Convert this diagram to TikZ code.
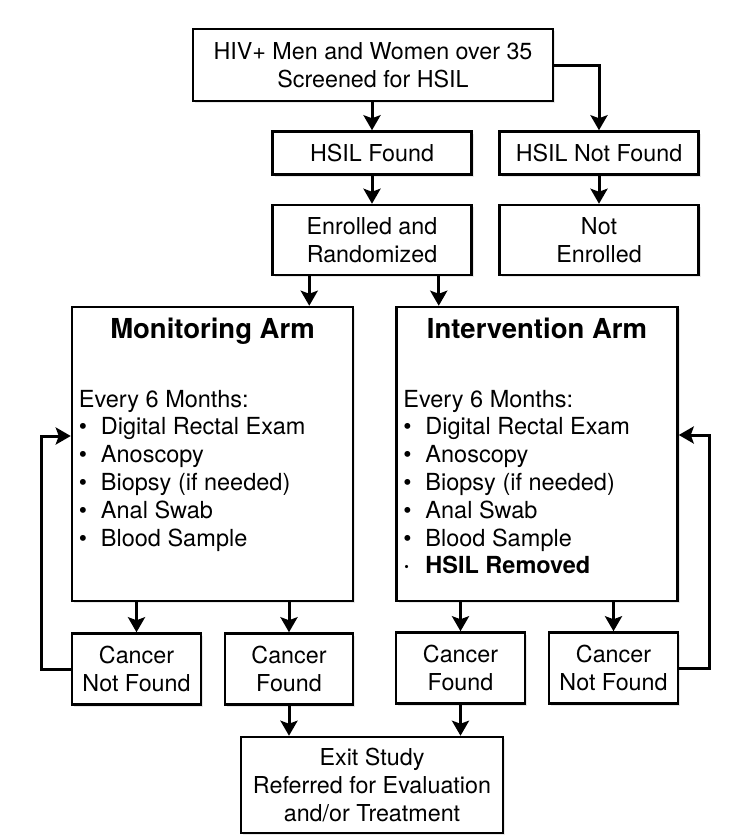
\documentclass[tikz,border=0pt]{standalone}
\usepackage{fontspec}
\setmainfont{TeX Gyre Heros}
\usetikzlibrary{calc}
\usetikzlibrary{positioning}
\usetikzlibrary{arrows.meta}
\usetikzlibrary{shadows}

\tikzset{
  box/.style={draw, line width=2.5pt, fill=white, align=center, inner sep=0pt,
    font=\fontsize{23.3}{28}\selectfont,
    drop shadow={opacity=0.18, shadow xshift=2pt, shadow yshift=-2pt}},
  small/.style={box, minimum width=129pt, minimum height=71pt},
  mid/.style={box, minimum width=199pt},
  arm/.style={box, minimum width=281pt, minimum height=294pt},
  armtitle/.style={inner sep=0pt, font=\fontsize{27.5}{32}\selectfont\bfseries},
  armlist/.style={inner sep=0pt, align=left, font=\fontsize{23.5}{27.8}\selectfont},
  link/.style={line width=3pt, -{Stealth[width=17pt,length=15pt,inset=3pt]}},
}
\newcommand{\itm}[1]{\makebox[22pt][l]{#1}}

\begin{document}
\begin{tikzpicture}[x=1pt,y=-1pt]
  \useasboundingbox (0,0) rectangle (737,835);

  \node [box, minimum width=360pt, minimum height=72pt] (scr) at (373,65)
    {HIV+ Men and Women over 35\\Screened for HSIL};
  \node [mid, minimum height=43pt] (hf) at (372,153) {HSIL Found};
  \node [mid, minimum height=43pt] (hnf) at (599,153) {HSIL Not Found};
  \node [mid, minimum height=70pt] (enr) at (372,240) {Enrolled and\\Randomized};
  \node [mid, minimum height=70pt] (nenr) at (599,240) {Not\\Enrolled};

  \node [arm] (mon) at (212.5,454) {};
  \node [arm] (int) at (537,454) {};
  \node [armtitle, anchor=base] (montitle) at ([yshift=-33pt]mon.north) {Monitoring Arm};
  \node [armtitle, anchor=base] (inttitle) at ([yshift=-33pt]int.north) {Intervention Arm};
  \node [armlist, anchor=north west] (monlist) at ([shift={(8pt,-84pt)}]mon.north west)
    {Every 6 Months:\\ \itm{•}Digital Rectal Exam\\ \itm{•}Anoscopy\\
     \itm{•}Biopsy (if needed)\\ \itm{•}Anal Swab\\ \itm{•}Blood Sample};
  \node [armlist, anchor=north west] (intlist) at ([shift={(8pt,-84pt)}]int.north west)
    {Every 6 Months:\\ \itm{•}Digital Rectal Exam\\ \itm{•}Anoscopy\\
     \itm{•}Biopsy (if needed)\\ \itm{•}Anal Swab\\ \itm{•}Blood Sample\\
     \itm{\hspace{1pt}\raisebox{2.8pt}{\fontsize{13}{13}\selectfont•}}\textbf{HSIL Removed}};

  \node [small] (cnf1) at (136.5,669) {Cancer\\Not Found};
  \node [small, minimum width=128pt] (cf1) at (289,669) {Cancer\\Found};
  \node [small] (cf2) at (460.5,668) {Cancer\\Found};
  \node [small] (cnf2) at (613.5,668) {Cancer\\Not Found};

  \node [box, minimum width=262pt, minimum height=96pt] (exit) at (372,785)
    {Exit Study\\Referred for Evaluation\\and/or Treatment};

  \coordinate (e1) at ([xshift=38pt]enr.south west);
  \coordinate (e2) at ([xshift=-34pt]enr.south east);

  \draw [link] (scr.south -| hf) -- (hf);
  \draw [link] (scr.east) -| (hnf);
  \draw [link] (hf) -- (enr);
  \draw [link] (hnf) -- (nenr);
  \draw [link] (e1) -- (e1 |- mon.north);
  \draw [link] (e2) -- (e2 |- int.north);
  \draw [link] (mon.south -| cnf1) -- (cnf1);
  \draw [link] (mon.south -| cf1) -- (cf1);
  \draw [link] (int.south -| cf2) -- (cf2);
  \draw [link] (int.south -| cnf2) -- (cnf2);
  \draw [link] (cnf1.west) -- ++(-29,0) |- ([yshift=18pt]mon.west);
  \draw [link] (cnf2.east) -- ++(30,0) |- ([yshift=19pt]int.east);
  \draw [link] (cf1) -- (cf1 |- exit.north);
  \draw [link] (cf2) -- (cf2 |- exit.north);

\end{tikzpicture}
\end{document}
